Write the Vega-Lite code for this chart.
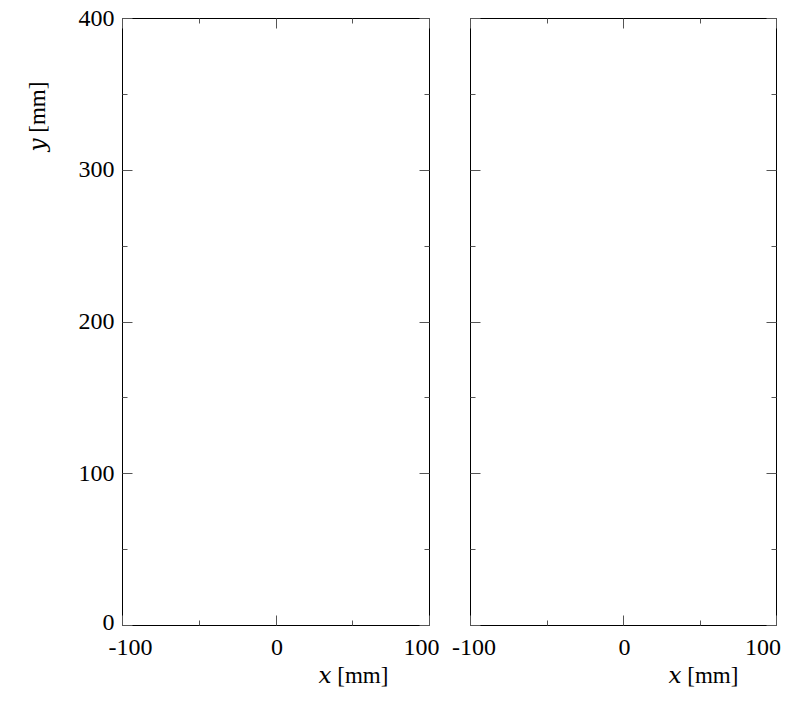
{
  "$schema": "https://vega.github.io/schema/vega-lite/v6.json",
  "background": "white",
  "padding": {"left": 25, "top": 5, "right": 0, "bottom": 0},
  "config": {
    "font": "Liberation Serif",
    "view": {"stroke": "#000", "strokeWidth": 1},
    "axis": {
      "domain": false, "grid": false,
      "labelFont": "Liberation Serif", "labelFontSize": 24, "labelColor": "#000",
      "titleFont": "Liberation Serif, DejaVu Serif", "titleFontSize": 23, "titleFontWeight": "normal", "titleColor": "#000",
      "tickColor": "#555", "tickWidth": 1,
      "labelFlush": false, "labelOverlap": false, "labelBound": false,
      "labelExpr": "replace(datum.label, '−', '-')"
    }
  },
  "data": {"values": []},
  "bounds": "flush",
  "spacing": 41,
  "hconcat": [
    {
      "width": 307, "height": 607,
      "layer": [
        {"mark": "point", "encoding": {
          "x": {"field": "x", "type": "quantitative", "scale": {"domain": [-100, 100], "nice": false, "zero": false},
            "axis": {"orient": "bottom", "values": [-100, 0, 100], "ticks": false, "labelPadding": 10,
              "labelOffset": {"condition": [{"test": "datum.value == -100", "value": 8}, {"test": "datum.value == 100", "value": -8}], "value": 1},
              "title": "𝑥 [mm]", "titleX": 231, "titleY": 50, "titleAlign": "center", "titleBaseline": "middle"}},
          "y": {"field": "y", "type": "quantitative", "scale": {"domain": [0, 400], "nice": false, "zero": false},
            "axis": {"orient": "left", "values": [0, 100, 200, 300, 400], "ticks": false, "labelPadding": 8, "labelBaseline": "middle",
              "labelOffset": {"condition": [{"test": "datum.value == 0", "value": -3}], "value": 0},
              "title": "𝑦 [mm]", "titleX": -85, "titleY": 98, "titleAngle": -90, "titleAlign": "center", "titleBaseline": "middle"}}
        }},
        {"mark": "point", "encoding": {
          "x": {"field": "x", "type": "quantitative", "axis": {"orient": "bottom", "values": [-100, 0, 100], "labels": false, "tickSize": -10, "title": null}},
          "y": {"field": "y", "type": "quantitative", "axis": {"orient": "left", "values": [0, 100, 200, 300, 400], "labels": false, "tickSize": -10, "title": null}}
        }},
        {"mark": "point", "encoding": {
          "x": {"field": "x", "type": "quantitative", "axis": {"orient": "bottom", "values": [-50, 50], "labels": false, "tickSize": -5, "title": null}},
          "y": {"field": "y", "type": "quantitative", "axis": {"orient": "left", "values": [50, 150, 250, 350], "labels": false, "tickSize": -5, "title": null}}
        }},
        {"mark": "point", "encoding": {
          "x": {"field": "x", "type": "quantitative", "axis": {"orient": "top", "values": [-100, 0, 100], "labels": false, "tickSize": -10, "title": null}},
          "y": {"field": "y", "type": "quantitative", "axis": {"orient": "right", "values": [0, 100, 200, 300, 400], "labels": false, "tickSize": -10, "title": null}}
        }},
        {"mark": "point", "encoding": {
          "x": {"field": "x", "type": "quantitative", "axis": {"orient": "top", "values": [-50, 50], "labels": false, "tickSize": -5, "title": null}},
          "y": {"field": "y", "type": "quantitative", "axis": {"orient": "right", "values": [50, 150, 250, 350], "labels": false, "tickSize": -5, "title": null}}
        }}
      ],
      "resolve": {"axis": {"x": "independent", "y": "independent"}}
    },
    {
      "width": 306, "height": 607,
      "layer": [
        {"mark": "point", "encoding": {
          "x": {"field": "x", "type": "quantitative", "scale": {"domain": [-100, 100], "nice": false, "zero": false},
            "axis": {"orient": "bottom", "values": [-100, 0, 100], "ticks": false, "labelPadding": 10,
              "labelOffset": {"condition": [{"test": "datum.value == -100", "value": 3.5}, {"test": "datum.value == 100", "value": -13.5}], "value": 1},
              "title": "𝑥 [mm]", "titleX": 233, "titleY": 50, "titleAlign": "center", "titleBaseline": "middle"}},
          "y": {"field": "y", "type": "quantitative", "scale": {"domain": [0, 400], "nice": false, "zero": false},
            "axis": {"orient": "left", "values": [0, 100, 200, 300, 400], "labels": false, "tickSize": -10, "title": null}}
        }},
        {"mark": "point", "encoding": {
          "x": {"field": "x", "type": "quantitative", "axis": {"orient": "bottom", "values": [-100, 0, 100], "labels": false, "tickSize": -10, "title": null}},
          "y": {"field": "y", "type": "quantitative", "axis": {"orient": "left", "values": [50, 150, 250, 350], "labels": false, "tickSize": -5, "title": null}}
        }},
        {"mark": "point", "encoding": {
          "x": {"field": "x", "type": "quantitative", "axis": {"orient": "bottom", "values": [-50, 50], "labels": false, "tickSize": -5, "title": null}},
          "y": {"field": "y", "type": "quantitative", "axis": {"orient": "right", "values": [0, 100, 200, 300, 400], "labels": false, "tickSize": -10, "title": null}}
        }},
        {"mark": "point", "encoding": {
          "x": {"field": "x", "type": "quantitative", "axis": {"orient": "top", "values": [-100, 0, 100], "labels": false, "tickSize": -10, "title": null}},
          "y": {"field": "y", "type": "quantitative", "axis": {"orient": "right", "values": [50, 150, 250, 350], "labels": false, "tickSize": -5, "title": null}}
        }},
        {"mark": "point", "encoding": {
          "x": {"field": "x", "type": "quantitative", "axis": {"orient": "top", "values": [-50, 50], "labels": false, "tickSize": -5, "title": null}},
          "y": {"field": "y", "type": "quantitative", "axis": null}
        }}
      ],
      "resolve": {"axis": {"x": "independent", "y": "independent"}}
    }
  ]
}
